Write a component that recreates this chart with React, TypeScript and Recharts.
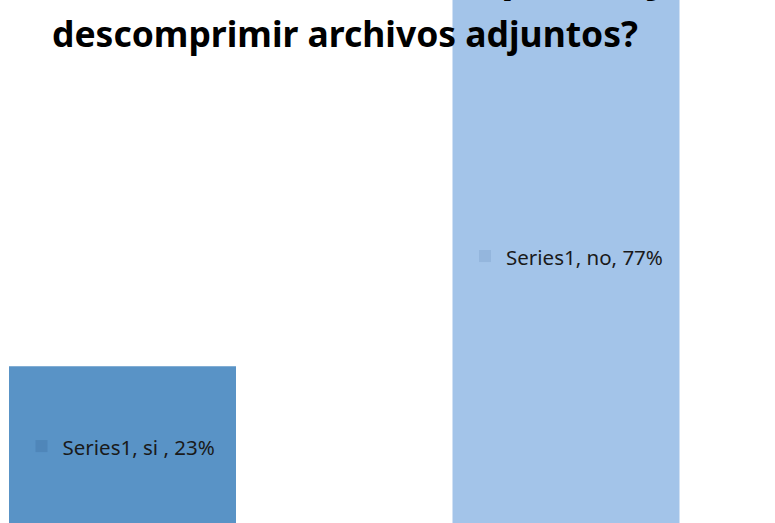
import { BarChart, Bar, XAxis, YAxis, Cell, LabelList } from 'recharts'

// chart data
const categories = ['si ', 'no']
const percentages = [23, 77]
const seriesName = 'Series1'
const titleLines = ['¿Sabe usted cómo comprimir y', 'descomprimir archivos adjuntos?']

const barColors = ['#5993c6', '#a3c4e9']
const markerColors = ['#4f86b9', '#94b6dd']

const data = categories.map((category, i) => ({
  category,
  value: percentages[i],
}))

const renderLabel = (props: any) => {
  const { x, y, width, height, index } = props
  const cx = Number(x) + Number(width) / 2
  const cy = Number(y) + Number(height) / 2
  const row = data[index]
  return (
    <g>
      <rect x={cx - 87} y={cy - 7} width={12} height={12} fill={markerColors[index]} />
      <text
        x={cx - 60}
        y={cy}
        dominantBaseline="central"
        fontFamily="'Noto Sans', sans-serif"
        fontSize={20.5}
        fill="#1a1a1a"
      >
        {`${seriesName}, ${row.category}, ${row.value}%`}
      </text>
    </g>
  )
}

export default function App() {
  return (
    <div
      style={{
        position: 'absolute',
        left: 0,
        top: 0,
        width: 775,
        height: 523,
        overflow: 'hidden',
        background: '#fff',
      }}
    >
      <BarChart
        width={900}
        height={593}
        data={data}
        margin={{ top: 25, right: 12, bottom: 5, left: 1 }}
        style={{ position: 'absolute', left: -100, top: -60 }}
      >
        <XAxis dataKey="category" hide />
        <YAxis domain={[0, 80]} hide />
        <Bar dataKey="value" barSize={227} isAnimationActive={false}>
          {data.map((d, i) => (
            <Cell key={d.category} fill={barColors[i]} />
          ))}
          <LabelList dataKey="value" content={renderLabel} />
        </Bar>
      </BarChart>
      <svg
        width={775}
        height={523}
        style={{ position: 'absolute', left: 0, top: 0, pointerEvents: 'none' }}
      >
        {/* first title line sits above the visible area, only descenders peek in */}
        <text
          x={15}
          y={-8}
          textLength={655}
          lengthAdjust="spacingAndGlyphs"
          fontFamily="'Noto Sans', sans-serif"
          fontWeight="bold"
          fontSize={35}
          fill="#000"
        >
          {titleLines[0]}
        </text>
        <text
          x={52}
          y={47}
          textLength={586}
          lengthAdjust="spacingAndGlyphs"
          fontFamily="'Noto Sans', sans-serif"
          fontWeight="bold"
          fontSize={35}
          fill="#000"
        >
          {titleLines[1]}
        </text>
      </svg>
    </div>
  )
}
